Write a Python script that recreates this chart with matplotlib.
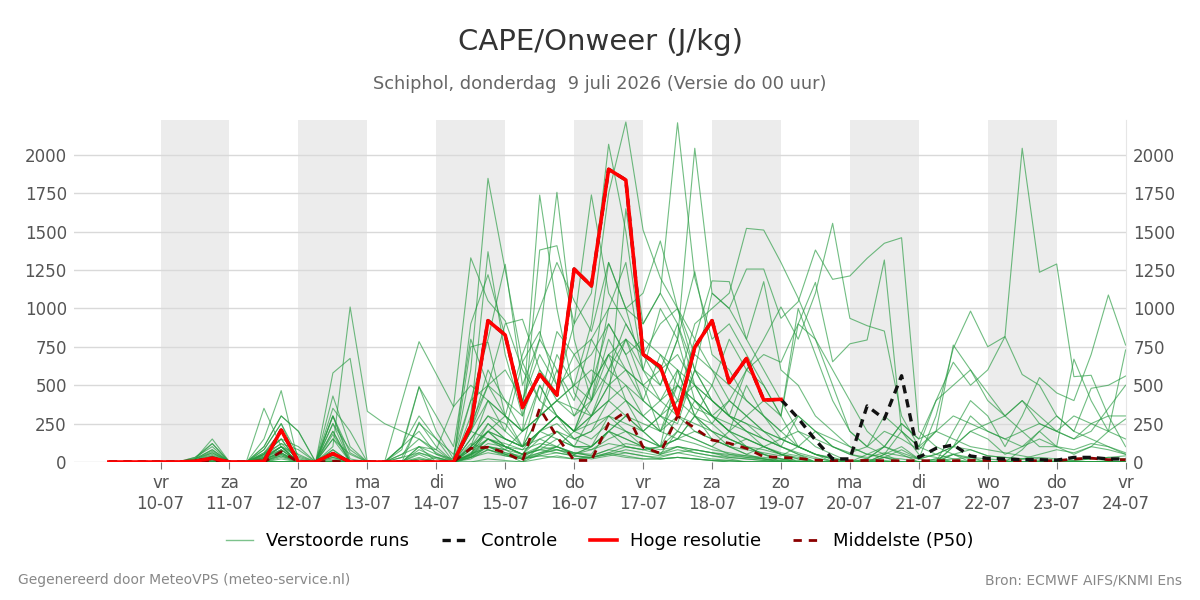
import numpy as np
import pandas as pd
import matplotlib
matplotlib.use('Agg')
import matplotlib.pyplot as plt
from matplotlib.lines import Line2D

# 6-hourly steps, 9 juli 06:00 -> 24 juli 00:00
times = pd.date_range('2026-07-09 06:00', '2026-07-24 00:00', freq='6h')
tick_days = pd.date_range('2026-07-10', '2026-07-24', freq='D')
day_names = ['vr', 'za', 'zo', 'ma', 'di', 'wo', 'do', 'vr', 'za', 'zo', 'ma', 'di', 'wo', 'do', 'vr']

# Hoge resolutie (runs until 19-07 00:00)
hires = [0,0,0,0, 0,5,25,0, 0,5,208,0, 0,55,0,0, 0,0,0,0, 0,234,921,827, 354,571,436,1257,
         1147,1907,1837,701, 621,306,747,921, 517,675,404,408]
# Controle (same as hires up to 19-07, then own values)
control = hires[:39] + [408, 285, 143, 20, 20, 365, 280, 562, 30, 89, 111, 39, 24, 20, 15, 15, 12, 30, 30, 20, 20]
# Middelste (P50)
p50 = [0,0,0,0, 0,0,5,0, 0,0,67,0, 0,5,0,0, 0,0,0,0, 0,89,96,61, 5,350,165,10, 10,252,328,96,
       57,300,220,143, 122,89,35,30, 24,12,8,8, 10,8,8,8, 8,8,10,10, 8,8,8,8, 20,25,15,15]

# Verstoorde runs (ensemble members)
m01 = [0,0,0,0, 0,0,20,0, 0,40,120,20, 0,100,1010,330, 250,200,150,80, 360,1330,1050,920, 600,400,850,700, 500,900,700,400, 300,250,600,500, 300,200,150,100, 50,20,10,0, 0,10,0,0, 20,0,0,0, 0,0,0,0, 0,0,10,0]
m02 = [0,0,0,0, 0,10,60,0, 0,80,250,40, 0,300,60,0, 0,100,490,200, 20,600,1848,1250, 650,400,300,200, 500,700,400,200, 100,600,300,150, 100,50,20,0, 0,0,0,0, 0,30,0,0, 0,50,0,0, 0,0,0,0, 0,0,0,0]
m03 = [0,0,0,0, 0,20,80,0, 0,100,300,200, 0,60,0,0, 0,0,260,100, 0,300,1370,700, 300,1739,1000,450, 300,600,800,500, 200,400,800,600, 400,300,200,100, 60,30,0,0, 0,0,0,0, 0,0,0,0, 0,0,0,0, 0,0,0,0]
m04 = [0,0,0,0, 0,30,100,0, 0,150,465,0, 0,200,0,0, 0,100,300,150, 50,400,800,1288, 500,800,1757,800, 400,1000,1300,600, 500,800,400,300, 200,500,300,150, 100,50,20,10, 0,0,0,0, 0,0,0,0, 0,0,0,0, 0,0,0,0]
m05 = [0,0,0,0, 0,10,50,0, 0,60,200,0, 0,430,100,0, 0,80,490,300, 100,800,500,300, 200,1381,1409,900, 1100,2070,1500,700, 600,900,500,300, 200,150,100,50, 30,0,0,0, 0,0,0,0, 0,0,0,0, 0,0,0,0, 0,0,0,0]
m06 = [0,0,0,0, 0,20,120,0, 0,50,150,100, 0,300,0,0, 0,0,100,80, 0,250,500,400, 300,600,400,500, 900,1750,2215,1511, 1200,1000,600,400, 300,200,100,50, 0,0,0,0, 0,0,0,0, 0,0,0,0, 0,0,0,0, 0,0,0,0]
m07 = [0,0,0,0, 0,0,30,0, 0,20,100,0, 0,150,0,0, 0,393,784,573, 360,500,400,300, 200,300,600,400, 800,1000,1000,900, 1100,2210,1200,800, 900,700,500,300, 100,50,20,0, 0,0,0,0, 0,0,0,0, 0,0,0,0, 0,0,0,0]
m08 = [0,0,0,0, 0,0,10,0, 0,0,80,0, 0,50,0,0, 0,0,0,30, 0,150,300,200, 100,500,300,200, 400,600,900,700, 500,800,2044,1100, 1000,800,600,400, 200,100,50,0, 0,0,0,0, 0,0,0,0, 0,0,0,0, 0,0,0,0]
m09 = [0,0,0,0, 0,0,20,0, 0,30,100,0, 0,60,0,0, 0,100,200,50, 0,200,500,600, 400,700,500,600, 700,900,700,800, 700,500,900,1000, 1100,1522,1511,1300, 1068,800,500,200, 100,50,0,0, 0,0,0,0, 0,0,0,0, 0,0,0,0]
m10 = [0,0,0,0, 0,0,0,0, 0,0,50,0, 0,20,0,0, 0,0,50,0, 0,100,200,150, 100,300,400,500, 600,500,800,600, 400,300,600,1100, 1000,1257,1257,936, 1044,1381,1190,1212, 1327,1425,1461,200, 100,50,20,0, 0,0,0,0, 0,0,0,0]
m11 = [0,0,0,0, 0,10,40,0, 0,60,150,0, 0,250,0,0, 0,0,100,0, 0,50,200,300, 200,300,700,500, 400,800,600,500, 600,700,500,400, 300,600,800,1010, 800,1100,1555,936, 888,853,300,100, 50,20,0,0, 0,0,0,0, 0,0,0,0]
m12 = [0,0,0,0, 0,0,0,0, 0,0,20,0, 0,0,0,0, 0,0,0,0, 0,50,100,80, 50,200,300,200, 300,400,500,300, 400,600,300,500, 800,600,700,650, 900,1170,653,770, 795,1316,200,50, 30,0,0,0, 0,0,0,0, 0,0,0,0]
m13 = [0,0,0,0, 0,0,10,0, 0,20,60,0, 0,80,0,0, 0,0,30,0, 0,50,150,100, 50,200,300,150, 200,400,300,200, 100,300,200,150, 100,50,100,150, 100,50,30,0, 50,100,60,20, 300,740,983,751, 817,2044,1236,1290, 556,565,300,100]
m14 = [0,0,0,0, 0,0,0,0, 0,0,30,0, 0,0,0,0, 0,0,0,0, 0,30,100,50, 0,100,200,100, 100,300,200,100, 50,200,150,100, 50,30,20,0, 0,0,0,0, 0,50,100,20, 0,200,400,300, 100,300,550,450, 400,700,1088,762]
m15 = [0,0,0,0, 0,0,0,0, 0,10,40,0, 0,30,0,0, 0,0,0,0, 0,80,200,100, 50,150,100,50, 100,200,150,100, 50,100,80,60, 40,30,20,10, 0,0,0,0, 20,100,250,150, 400,650,500,600, 817,570,500,300, 200,480,500,560]
m16 = [0,0,0,0, 0,0,30,0, 0,50,200,0, 0,0,0,0, 0,0,0,0, 0,200,600,400, 200,500,300,200, 300,500,400,300, 200,500,400,300, 200,150,100,50, 20,0,0,0, 0,50,200,100, 200,762,600,400, 300,200,100,100, 670,400,200,730]
m17 = [0,0,0,0, 0,0,0,0, 0,0,0,0, 0,0,0,0, 0,0,0,0, 0,900,1220,820, 400,800,600,300, 500,1300,1000,600, 1000,800,1240,700, 600,400,300,200, 100,50,20,0, 0,30,80,20, 50,100,80,40, 30,20,50,80, 60,100,80,50]
m18 = [0,0,0,0, 0,5,20,0, 0,30,100,50, 0,350,200,0, 0,50,100,50, 20,750,780,300, 700,1000,1300,1050, 850,1300,1000,1100, 1440,1000,700,600, 500,400,300,200, 300,200,100,50, 20,0,0,0, 0,0,0,0, 0,0,0,0, 0,0,0,0]
m19 = [0,0,0,0, 0,0,0,0, 0,0,0,0, 0,0,0,0, 0,0,0,0, 0,100,400,200, 650,850,500,900, 1740,1100,900,700, 600,400,300,200, 150,100,50,20, 0,0,0,0, 0,0,0,0, 0,100,300,200, 150,100,200,300, 200,150,100,50]
m20 = [0,0,0,0, 0,20,80,0, 0,100,300,200, 0,250,80,0, 0,0,0,0, 0,200,400,300, 100,200,150,100, 300,400,1650,900, 1100,900,600,400, 300,250,150,100, 50,0,0,0, 0,0,0,0, 0,0,0,0, 0,0,0,0, 0,0,0,0]
m21 = [0,0,0,0, 0,0,0,0, 0,20,80,0, 0,0,0,0, 0,0,0,0, 0,50,100,80, 200,300,400,300, 400,700,800,700, 900,1000,800,1180, 1175,800,1175,600, 500,300,200,100, 50,30,0,0, 0,0,0,0, 0,0,0,0, 0,0,0,0]
m22 = [0,0,0,0, 0,0,0,0, 0,0,0,0, 0,0,0,0, 0,0,0,0, 0,150,300,250, 100,200,300,200, 250,300,400,300, 200,300,250,200, 150,100,50,20, 0,0,0,0, 0,0,0,0, 20,50,30,0, 0,0,0,0, 0,0,0,0]
m23 = [0,0,0,0, 0,5,30,0, 0,40,100,30, 0,80,0,0, 0,0,20,0, 0,60,150,100, 80,120,100,60, 50,200,300,250, 200,150,300,200, 100,150,100,60, 40,0,0,0, 0,0,0,0, 0,0,0,0, 0,0,0,0, 0,0,0,0]
m24 = [0,0,0,0, 0,0,0,0, 0,0,0,0, 0,0,0,0, 0,0,60,30, 0,400,500,900, 930,600,450,700, 800,600,500,400, 700,600,500,300, 400,300,200,150, 100,50,0,0, 0,0,0,0, 0,0,0,0, 0,0,0,0, 0,0,0,0]
m25 = [0,0,0,0, 0,0,0,0, 0,0,0,0, 0,0,0,0, 0,0,0,0, 0,20,80,50, 30,100,200,100, 100,200,100,80, 100,200,150,100, 200,300,400,300, 1000,700,400,200, 100,300,200,100, 400,500,600,450, 300,400,250,200, 300,250,200,150]
m26 = [0,0,0,0, 0,0,0,0, 0,0,0,0, 0,0,0,0, 0,0,0,0, 0,30,100,60, 40,80,150,100, 80,150,200,150, 100,150,300,250, 400,600,500,300, 900,800,600,400, 200,100,50,0, 0,0,0,0, 0,0,0,0, 0,0,0,0]
m27 = [0,0,0,0, 0,0,0,0, 0,0,0,0, 0,0,0,0, 0,0,0,0, 0,100,200,100, 50,80,60,40, 30,50,80,60, 40,60,80,60, 50,40,30,20, 10,0,0,0, 20,100,250,150, 200,300,250,200, 150,200,250,200, 150,250,300,300]
m28 = [0,0,0,0, 0,0,0,0, 0,0,60,0, 0,40,0,0, 0,0,0,0, 0,40,150,120, 80,200,250,150, 200,300,250,200, 300,400,500,400, 300,250,200,150, 200,150,100,50, 30,60,40,20, 50,100,200,250, 300,400,300,200, 150,200,350,500]
m29 = [0,0,0,0, 0,10,30,0, 0,0,0,0, 0,0,0,0, 0,0,0,0, 0,50,250,150, 100,300,400,350, 300,500,600,500, 400,500,350,300, 200,100,50,0, 0,0,0,0, 0,0,0,0, 0,0,0,0, 0,0,0,0, 0,0,0,0]
m30 = [0,0,0,0, 0,0,0,0, 0,20,50,0, 0,0,0,0, 0,30,60,20, 0,50,120,100, 50,100,80,50, 80,120,100,80, 50,80,60,40, 30,20,10,0, 0,0,0,0, 0,0,0,0, 0,100,200,150, 50,100,150,100, 80,120,100,60]
m31 = [0,0,0,0, 0,5,40,0, 0,30,80,0, 0,10,0,0, 0,0,0,0, 0,80,150,80, 20,60,100,200, 500,700,600,400, 300,200,400,250, 150,100,80,50, 20,0,0,0, 0,0,0,0, 0,0,0,0, 0,0,0,0, 0,0,0,0]
m32 = [0,0,0,0, 0,0,0,0, 0,0,0,0, 0,0,0,0, 0,0,0,0, 0,0,0,0, 0,50,100,50, 100,200,300,200, 300,500,400,300, 250,200,150,100, 300,200,100,60, 100,200,150,80, 200,150,100,80, 60,40,20,10, 10,20,30,40]
m33 = [0,0,0,0, 0,15,70,0, 0,80,250,0, 0,150,50,0, 0,50,150,60, 0,120,80,40, 20,40,30,20, 30,60,40,20, 20,30,20,10, 10,0,0,0, 0,0,0,0, 0,0,0,0, 0,0,0,0, 0,0,0,0, 0,0,0,0]
m34 = [0,0,0,0, 0,20,60,0, 0,50,150,0, 0,180,0,0, 0,0,80,30, 0,200,150,100, 50,80,100,60, 40,80,60,40, 30,60,40,20, 10,0,0,0, 0,0,0,0, 0,0,0,0, 0,0,0,0, 0,0,0,0, 0,0,0,0]
m35 = [0,0,0,0, 0,10,30,0, 0,20,60,0, 0,300,20,0, 0,30,250,150, 0,30,80,50, 20,40,60,40, 30,50,30,20, 20,30,20,10, 0,0,0,0, 0,0,0,0, 0,0,0,0, 0,0,0,0, 0,0,0,0, 0,0,0,0]
m36 = [0,0,0,0, 0,0,20,0, 10,350,100,0, 0,30,0,0, 0,0,0,0, 0,40,100,60, 30,60,80,40, 20,40,60,40, 20,30,20,10, 0,0,0,0, 0,0,0,0, 0,0,0,0, 0,50,80,40, 30,20,10,0, 0,0,0,0]
m37 = [0,0,0,0, 0,0,0,0, 0,0,0,0, 0,0,0,0, 0,0,0,0, 0,0,20,10, 0,20,40,20, 30,60,100,80, 100,150,200,150, 100,80,60,40, 100,200,150,100, 50,30,20,0, 10,20,30,20, 10,20,30,20, 10,20,30,20]
m38 = [0,0,0,0, 0,0,0,0, 0,0,40,0, 0,0,0,0, 0,0,0,0, 0,30,60,40, 20,50,80,60, 40,80,120,100, 60,100,80,60, 30,20,10,0, 0,0,0,0, 0,0,0,0, 0,0,0,0, 0,80,200,100, 50,100,200,280]
m39 = [0,0,0,0, 0,20,150,0, 0,50,120,80, 0,200,0,0, 0,0,20,0, 0,100,250,150, 100,200,300,200, 150,250,200,150, 100,150,120,80, 60,40,20,10, 0,0,0,0, 0,0,0,0, 0,0,0,0, 0,0,0,0, 0,0,0,0]
m40 = [0,0,0,0, 0,30,120,0, 0,20,100,0, 0,580,675,0, 0,0,0,0, 0,80,200,150, 100,150,200,150, 100,200,150,100, 80,100,60,40, 20,0,0,0, 0,0,0,0, 0,0,0,0, 0,0,0,0, 0,0,0,0, 0,0,0,0]

members = [m01, m02, m03, m04, m05, m06, m07, m08, m09, m10, m11, m12, m13, m14, m15, m16, m17, m18, m19, m20,
           m21, m22, m23, m24, m25, m26, m27, m28, m29, m30, m31, m32, m33, m34, m35, m36, m37, m38, m39, m40]
for k, m in enumerate(members):
    assert len(m) == len(times), (k + 1, len(m))

green = '#259a3f'

fig = plt.figure(figsize=(12, 6), dpi=100)
ax = fig.add_axes([0.062, 0.23, 0.876, 0.57])

# alternating day shading
for d in tick_days[0:14:2]:
    ax.axvspan(d, d + pd.Timedelta(days=1), color='#ececec', lw=0, zorder=0)

for m in members:
    ax.plot(times, m, color=green, lw=0.8, alpha=0.65, zorder=2)
ax.plot(times, p50, color='#8b0000', lw=2, ls=(0, (3, 2.5)), zorder=3)
ax.plot(times, control, color='#111111', lw=2.4, ls=(0, (2.5, 1.8)), zorder=4)
ax.plot(times[:len(hires)], hires, color='#ff0000', lw=2.6, zorder=5)

ax.set_xlim(pd.Timestamp('2026-07-08 18:00'), pd.Timestamp('2026-07-24 00:00'))
ax.set_ylim(0, 2228)
ax.set_yticks(np.arange(0, 2001, 250))
ax.yaxis.grid(True, color='#d9d9d9', lw=1)
ax.set_axisbelow(True)

ax.set_xticks(tick_days)
ax.set_xticklabels([f"{n}\n{d:%d-%m}" for n, d in zip(day_names, tick_days)])
ax.tick_params(axis='x', length=5, color='#777777', labelsize=12, labelcolor='#555555', pad=4)
ax.tick_params(axis='y', left=False, right=False, labelleft=True, labelright=True,
               labelsize=12, labelcolor='#555555', pad=2)
for s in ['top', 'left', 'bottom']:
    ax.spines[s].set_visible(False)
ax.spines['right'].set_color('#e6e6e6')

fig.text(0.5, 1 - 42 / 600, 'CAPE/Onweer (J/kg)', ha='center', va='center', fontsize=21, color='#333333')
fig.text(0.5, 1 - 84 / 600, 'Schiphol, donderdag  9 juli 2026 (Versie do 00 uur)', ha='center', va='center',
         fontsize=12.8, color='#666666')

handles = [Line2D([], [], color=green, lw=1, alpha=0.6),
           Line2D([], [], color='#111111', lw=2.4, ls=(0, (2.5, 1.8))),
           Line2D([], [], color='#ff0000', lw=2.6),
           Line2D([], [], color='#8b0000', lw=2, ls=(0, (3, 2.5)))]
labels = ['Verstoorde runs', 'Controle', 'Hoge resolutie', 'Middelste (P50)']
fig.legend(handles, labels, loc='center', bbox_to_anchor=(0.5, 1 - 541 / 600), ncol=4, frameon=False,
           fontsize=13, handlelength=1.5, handletextpad=0.7, columnspacing=1.8)

fig.text(18 / 1200, 1 - 580 / 600, 'Gegenereerd door MeteoVPS (meteo-service.nl)', ha='left', va='center',
         fontsize=10, color='#888888')
fig.text(1182 / 1200, 1 - 580 / 600, 'Bron: ECMWF AIFS/KNMI Ens', ha='right', va='center',
         fontsize=10, color='#888888')

fig.savefig('out.png', dpi=100)
